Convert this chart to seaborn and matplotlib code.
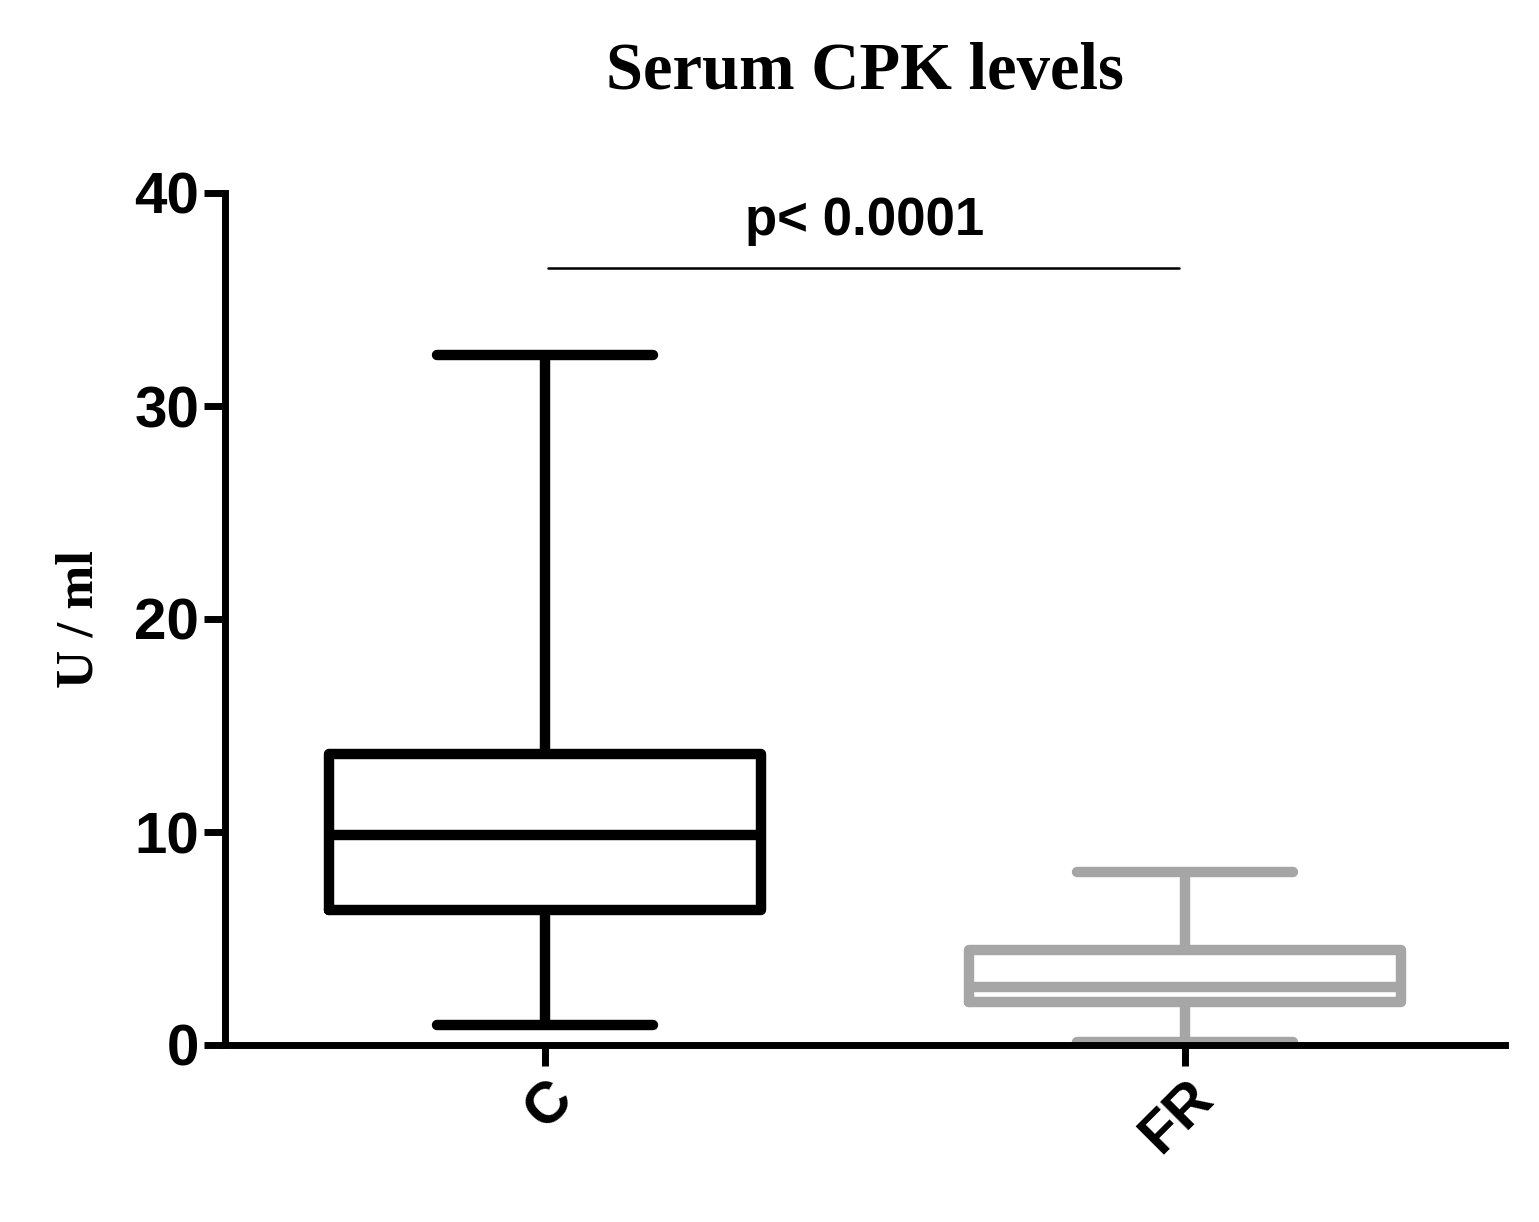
import matplotlib
matplotlib.use("Agg")
import matplotlib.pyplot as plt
import seaborn as sns
import pandas as pd

groups = ["C", "FR"]
c_stats = [0.94, 6.34, 9.86, 13.66, 32.4]   # min, Q1, median, Q3, max
fr_stats = [0.14, 2.02, 2.72, 4.46, 8.12]
yticks = [0, 10, 20, 30, 40]
colors = ["#000000", "#a6a6a6"]

df = pd.DataFrame({"group": ["C"] * 5 + ["FR"] * 5, "val": c_stats + fr_stats})

sns.set_style("ticks")
plt.rcParams.update({"text.color": "black", "axes.labelcolor": "black",
                     "xtick.color": "black", "ytick.color": "black",
                     "axes.edgecolor": "black"})
fig = plt.figure(figsize=(15.39, 12.22), dpi=100)
ax = fig.add_axes([225 / 1539, 1 - 1045 / 1222, 1280 / 1539, 852 / 1222])

sns.boxplot(data=df, x="group", y="val", hue="group", palette=colors, fill=False,
            whis=(0, 100), width=0.675, linewidth=7.5, ax=ax, legend=False,
            showfliers=False)

ax.set_ylim(0, 40)
ax.set_xlim(-0.5, 1.5)
ax.set_yticks(yticks)
ax.set_yticklabels([str(t) for t in yticks], fontfamily="Liberation Sans",
                   fontweight="bold", fontsize=42)
ax.set_xticks([0, 1])
ax.set_xticklabels(groups, fontfamily="Liberation Sans", fontweight="bold",
                   fontsize=42, rotation=45, ha="right", rotation_mode="anchor")
ax.set_xlabel("")
ax.set_ylabel("U / ml", fontfamily="Liberation Serif", fontweight="bold",
              fontsize=38, labelpad=22)
for s in ["top", "right"]:
    ax.spines[s].set_visible(False)
for s in ["left", "bottom"]:
    ax.spines[s].set_linewidth(5)
ax.tick_params(axis="both", width=5, length=15, direction="out", colors="black")

ax.plot([0.005, 0.99], [36.5, 36.5], color="black", lw=1.8, clip_on=False)
ax.text(0.5, 38.7, "p< 0.0001", ha="center", va="center", fontsize=38,
        fontfamily="Liberation Sans", fontweight="bold")

fig.text(865 / 1539, 1 - 72 / 1222, "Serum CPK levels", ha="center", va="center",
         fontsize=48, fontfamily="Liberation Serif", fontweight="bold")

fig.savefig("out.png", dpi=100)
